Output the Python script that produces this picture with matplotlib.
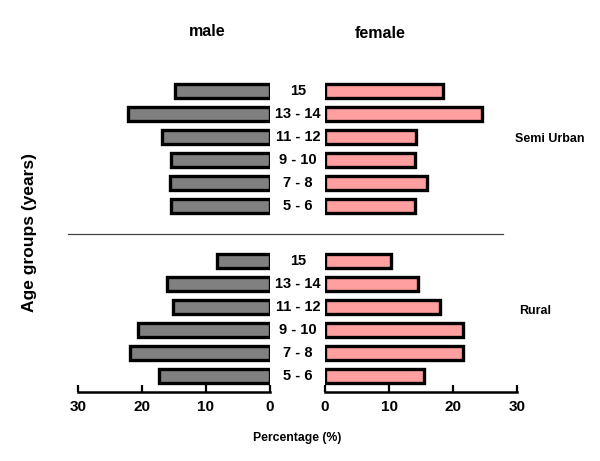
import matplotlib
matplotlib.use("Agg")
import matplotlib.pyplot as plt
import matplotlib.transforms as mtransforms
from matplotlib.lines import Line2D
import numpy as np

plt.rcParams['font.family'] = ['Liberation Sans', 'DejaVu Sans']

# age groups, bottom to top
age_groups = ['5 - 6', '7 - 8', '9 - 10', '11 - 12', '13 - 14', '15']

# percentages (same order as age_groups)
rural_male = [17.4, 21.9, 20.7, 15.1, 16.1, 8.3]
rural_female = [15.4, 21.6, 21.6, 17.9, 14.5, 10.3]
semi_male = [15.4, 15.7, 15.4, 16.8, 22.2, 14.8]
semi_female = [14.1, 16.0, 14.1, 14.2, 24.6, 18.4]

ticks = [0, 10, 20, 30]

n = len(age_groups)
gap = 2.39
pos_rural = np.arange(n)
pos_semi = np.arange(n) + (n - 1) + gap
divider_y = 6.17
bar_h = 0.62

fig = plt.figure(figsize=(6, 4.61), dpi=100)
axl = fig.add_axes([78 / 600, 1 - 392 / 461, 192 / 600, (392 - 77) / 461])
axr = fig.add_axes([325 / 600, 1 - 392 / 461, 192 / 600, (392 - 77) / 461])

for ax, vals_r, vals_s, color in [(axl, rural_male, semi_male, '#808080'),
                                  (axr, rural_female, semi_female, '#ff9f9f')]:
    ax.barh(pos_rural, vals_r, height=bar_h, color=color, edgecolor='black', linewidth=2.4)
    ax.barh(pos_semi, vals_s, height=bar_h, color=color, edgecolor='black', linewidth=2.4)
    ax.set_xlim(0, 30)
    ax.set_ylim(-0.7, 13)
    for s in ['top', 'left', 'right']:
        ax.spines[s].set_visible(False)
    ax.spines['bottom'].set_linewidth(1.8)
    ax.set_yticks([])
    ax.set_xticks(ticks)
    ax.set_xticklabels([str(t) for t in ticks], fontsize=11, fontweight='bold')
    ax.tick_params(axis='x', direction='in', length=5, width=1.6, pad=6)

axl.invert_xaxis()

# age group labels in the middle
trans = mtransforms.blended_transform_factory(fig.transFigure, axl.transData)
for i, lab in enumerate(age_groups):
    axl.text(298 / 600, pos_rural[i], lab, transform=trans, ha='center', va='center',
             fontsize=10.5, fontweight='bold', clip_on=False)
    axl.text(298 / 600, pos_semi[i], lab, transform=trans, ha='center', va='center',
             fontsize=10.5, fontweight='bold', clip_on=False)

# divider between the two settings
fig.add_artist(Line2D([68 / 600, 503 / 600], [divider_y, divider_y], transform=trans,
                      color='#444444', linewidth=0.9))

fig.text(207 / 600, 1 - 31 / 461, 'male', ha='center', va='center', fontsize=11.5, fontweight='bold')
fig.text(380 / 600, 1 - 33 / 461, 'female', ha='center', va='center', fontsize=11.5, fontweight='bold')
fig.text(515 / 600, 1 - 139 / 461, 'Semi Urban', ha='left', va='center', fontsize=9, fontweight='bold')
fig.text(519 / 600, 1 - 311 / 461, 'Rural', ha='left', va='center', fontsize=9, fontweight='bold')
fig.text(297 / 600, 1 - 438 / 461, 'Percentage (%)', ha='center', va='center', fontsize=8.8, fontweight='bold')
fig.text(30 / 600, 1 - 233 / 461, 'Age groups (years)', ha='center', va='center', rotation=90,
         fontsize=12.5, fontweight='bold')

fig.savefig('out.png', dpi=100)
